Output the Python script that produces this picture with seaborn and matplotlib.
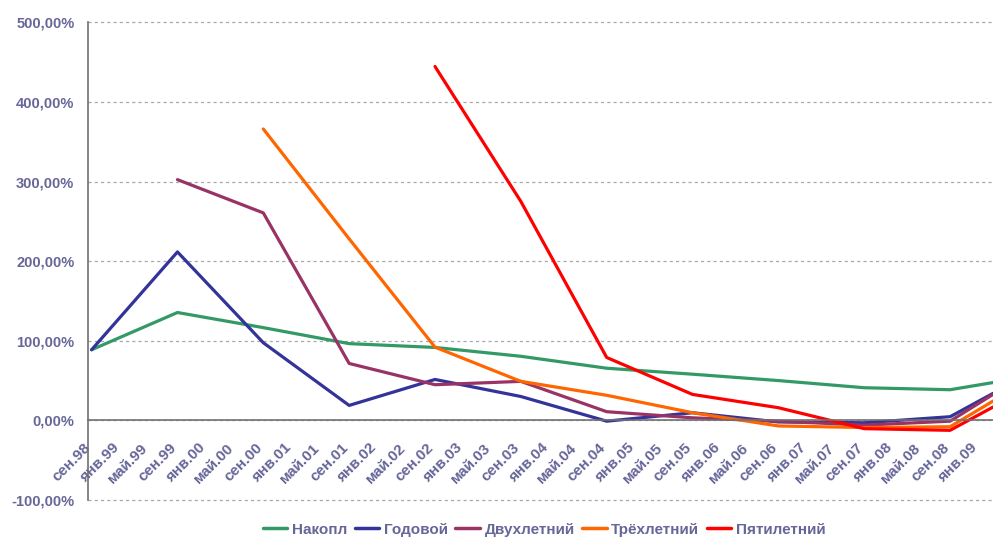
import matplotlib
matplotlib.use("Agg")
import matplotlib.pyplot as plt
import seaborn as sns
import pandas as pd
import numpy as np

# ---- data ----
dates = ["15.09.1998", "15.09.1999", "15.09.2000", "15.09.2001", "15.09.2002",
         "15.09.2003", "15.09.2004", "15.09.2005", "15.09.2006", "15.09.2007",
         "15.09.2008", "15.03.2009"]
nakopl = [88.7, 135.5, 116.5, 96.4, 91.6, 80.5, 65.5, 58.0, 50.0, 41.0, 38.5, 47.5]
godovoy = [88.7, 211.6, 97.5, 18.8, 51.4, 30.0, -1.0, 9.6, -2.0, -3.0, 4.6, 33.9]
dvuh = [np.nan, 302.4, 260.6, 71.5, 44.8, 49.0, 10.9, 3.2, -1.0, -6.0, -1.0, 32.6]
trekh = [np.nan, np.nan, 366.0, 228.0, 92.0, 49.0, 31.5, 9.6, -7.0, -9.0, -8.0, 24.2]
pyati = [np.nan, np.nan, np.nan, np.nan, 444.5, 275.0, 79.0, 32.6, 15.9, -10.4, -12.5, 16.7]
series_names = ["Накопл", "Годовой", "Двухлетний", "Трёхлетний", "Пятилетний"]
colors = ["#339966", "#333399", "#993366", "#FF6600", "#FF0000"]
tick_labels = ["сен.98", "янв.99", "май.99", "сен.99", "янв.00", "май.00", "сен.00",
               "янв.01", "май.01", "сен.01", "янв.02", "май.02", "сен.02", "янв.03",
               "май.03", "сен.03", "янв.04", "май.04", "сен.04", "янв.05", "май.05",
               "сен.05", "янв.06", "май.06", "сен.06", "янв.07", "май.07", "сен.07",
               "янв.08", "май.08", "сен.08", "янв.09"]
y_ticks = [-100, 0, 100, 200, 300, 400, 500]


def month_offset(s):
    d, m, y = [int(v) for v in s.split(".")]
    return (y - 1998) * 12 + (m - 9) + (d - 1) / 30.0


xs = [month_offset(d) for d in dates]
rows = []
for name, vals in zip(series_names, [nakopl, godovoy, dvuh, trekh, pyati]):
    for x, v in zip(xs, vals):
        rows.append({"x": x, "value": v, "series": name})
df = pd.DataFrame(rows).dropna()

sns.set_style("white")
plt.rcParams["font.family"] = ["Liberation Sans", "DejaVu Sans"]
plt.rcParams["font.weight"] = "bold"
text_color = "#666699"

fig = plt.figure(figsize=(9.93, 5.44), dpi=100)
ax = fig.add_axes([0.0889, 0.0809, 1 - 0.0889, 0.959 - 0.0809])

sns.lineplot(data=df, x="x", y="value", hue="series", hue_order=series_names,
             palette=colors, linewidth=2.3, ax=ax, legend=False, sort=True,
             estimator=None)

ax.set_xlim(0, xs[-1])
ax.set_ylim(-100, 500)
ax.set_xlabel("")
ax.set_ylabel("")

for s in ["top", "right"]:
    ax.spines[s].set_visible(False)
ax.spines["bottom"].set_position(("data", 0))
ax.spines["left"].set_color("#707070")
ax.spines["bottom"].set_color("#707070")
ax.spines["left"].set_linewidth(1.2)
ax.spines["bottom"].set_linewidth(1.2)

ax.set_yticks(y_ticks)
ax.set_yticklabels([f"{v:.2f}".replace(".", ",") + "%" for v in y_ticks],
                   color=text_color, fontsize=10.5, fontweight="bold")
tick_pos = [4 * i for i in range(len(tick_labels))]
ax.set_xticks(tick_pos)
ax.set_xticklabels(tick_labels, rotation=45, ha="right", va="center",
                   rotation_mode="anchor", color=text_color, fontsize=11,
                   fontweight="bold")
ax.tick_params(axis="x", direction="out", length=5, width=1.2, color="#707070", pad=13)
ax.tick_params(axis="y", direction="out", length=4, width=1.2, color="#707070", pad=6)

ax.yaxis.grid(True, linestyle=(0, (2.5, 2.5)), color="#A8A8A8", linewidth=0.9)
ax.xaxis.grid(False)
ax.set_axisbelow(True)
for gl in ax.get_ygridlines():
    gl.set_clip_on(False)

handles = [plt.Line2D([0], [0], color=c, lw=2.5) for c in colors]
leg = fig.legend(handles, series_names, loc="lower center", ncol=5,
                 bbox_to_anchor=(0.548, -0.012), frameon=False, fontsize=11,
                 handlelength=1.6, handletextpad=0.3, columnspacing=0.5)
for t in leg.get_texts():
    t.set_color(text_color)
    t.set_fontweight("bold")

fig.savefig("out.png", dpi=100)
